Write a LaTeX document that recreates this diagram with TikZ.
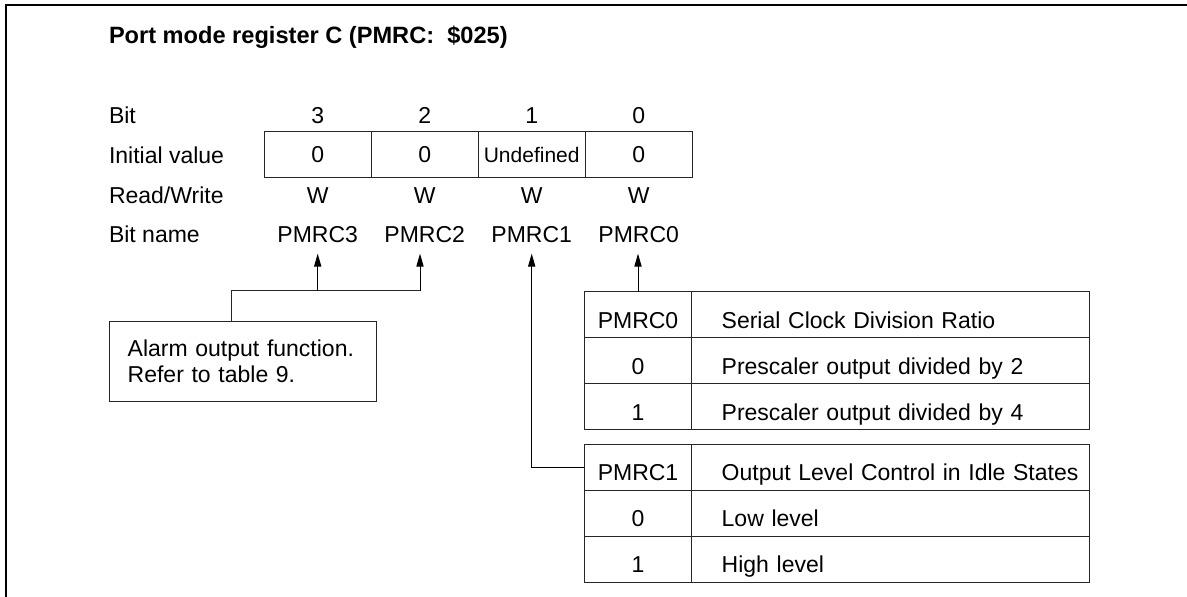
\documentclass[tikz,border=0pt]{standalone}
\usepackage{fontspec}
\setmainfont{Liberation Sans}
\usetikzlibrary{positioning,arrows.meta}

\begin{document}
\begin{tikzpicture}[x=0.5pt, y=-0.5pt,
    every node/.style={font=\fontsize{11.5}{13}\selectfont, inner sep=0pt, outer sep=0pt},
    rowlabel/.style={anchor=base west},
    colval/.style={anchor=base},
    bitname/.style={anchor=base, inner ysep=5.2pt},
    regcell/.style={draw=black!85, line width=0.5pt, minimum width=53.5pt, minimum height=23pt},
    keycell/.style={draw=black!85, line width=0.5pt, minimum width=53.7pt, minimum height=23pt, text height=13.5pt, text depth=0pt},
    desccell/.style={draw=black!85, line width=0.5pt, text width=198.65pt, align=left, minimum height=23pt, text height=13.5pt, text depth=0pt, execute at begin node=\hspace*{15pt}},
    notebox/.style={draw=black!85, line width=0.5pt, anchor=north west, minimum width=133.5pt, minimum height=40pt, text width=114.8pt, inner xsep=9.35pt, align=left},
    arr/.style={-{Triangle[length=6.5pt, width=3.6pt]}, line width=0.5pt},
    link/.style={draw=black!85, line width=0.5pt}]

    \useasboundingbox (0,0) rectangle (1187,597);

    % Frame
    \draw[line width=0.7pt] (1187,5) -- (6,5) -- (6,597);

    % Title and row labels
    \node[rowlabel, font=\fontsize{11.8}{13}\selectfont\bfseries] (title) at (109,44) {Port mode register C (PMRC:~~\$025)};
    \node[rowlabel] (lbit) at (109,124) {Bit};
    \node[rowlabel] (linit) at (109,164) {Initial value};
    \node[rowlabel] (lrw) at (109,204) {Read/Write};
    \node[rowlabel] (lname) at (109,243) {Bit name};

    % Register cells
    \node[regcell] (r3) at (317.7,154.8) {0};
    \node[regcell, right=0pt of r3] (r2) {0};
    \node[regcell, right=0pt of r2, font=\fontsize{10.5}{12}\selectfont] (r1) {Undefined};
    \node[regcell, right=0pt of r1] (r0) {0};

    % Bit numbers
    \node[colval] (b3) at (r3 |- lbit.base) {3};
    \node[colval] (b2) at (r2 |- lbit.base) {2};
    \node[colval] (b1) at (r1 |- lbit.base) {1};
    \node[colval] (b0) at (r0 |- lbit.base) {0};

    % Read/Write
    \node[colval] (w3) at (r3 |- lrw.base) {W};
    \node[colval] (w2) at (r2 |- lrw.base) {W};
    \node[colval] (w1) at (r1 |- lrw.base) {W};
    \node[colval] (w0) at (r0 |- lrw.base) {W};

    % Bit names
    \node[bitname] (n3) at (r3 |- lname.base) {PMRC3};
    \node[bitname] (n2) at (r2 |- lname.base) {PMRC2};
    \node[bitname] (n1) at (r1 |- lname.base) {PMRC1};
    \node[bitname] (n0) at (r0 |- lname.base) {PMRC0};

    % Alarm note
    \node[notebox] (alarm) at (109,321.7) {Alarm output function.\\Refer to table 9.};

    % PMRC0 table
    \node[keycell, anchor=north west] (t0h) at (584.3,291.7) {PMRC0};
    \node[desccell, right=0pt of t0h] (t0hd) {Serial Clock Division Ratio};
    \node[keycell, below=0pt of t0h] (t0a) {0};
    \node[desccell, right=0pt of t0a] (t0ad) {Prescaler output divided by 2};
    \node[keycell, below=0pt of t0a] (t0b) {1};
    \node[desccell, right=0pt of t0b] (t0bd) {Prescaler output divided by 4};

    % PMRC1 table
    \node[keycell, below=7.2pt of t0b] (t1h) {PMRC1};
    \node[desccell, right=0pt of t1h] (t1hd) {Output Level Control in Idle States};
    \node[keycell, below=0pt of t1h] (t1a) {0};
    \node[desccell, right=0pt of t1a] (t1ad) {Low level};
    \node[keycell, below=0pt of t1a] (t1b) {1};
    \node[desccell, right=0pt of t1b] (t1bd) {High level};

    % Connectors
    \coordinate (ja) at (231.7,290.7);
    \coordinate (jb) at (420,290.7);
    \draw[link] (ja |- alarm.north) -- (ja) -- (jb);
    \draw[arr] (n3.south |- ja) -- (n3.south);
    \draw[arr] (jb) -- (jb |- n2.south);
    \draw[arr] (t1h.west) -| (n1.south);
    \draw[arr] (t0h.north) -- (t0h.north |- n0.south);
\end{tikzpicture}
\end{document}
